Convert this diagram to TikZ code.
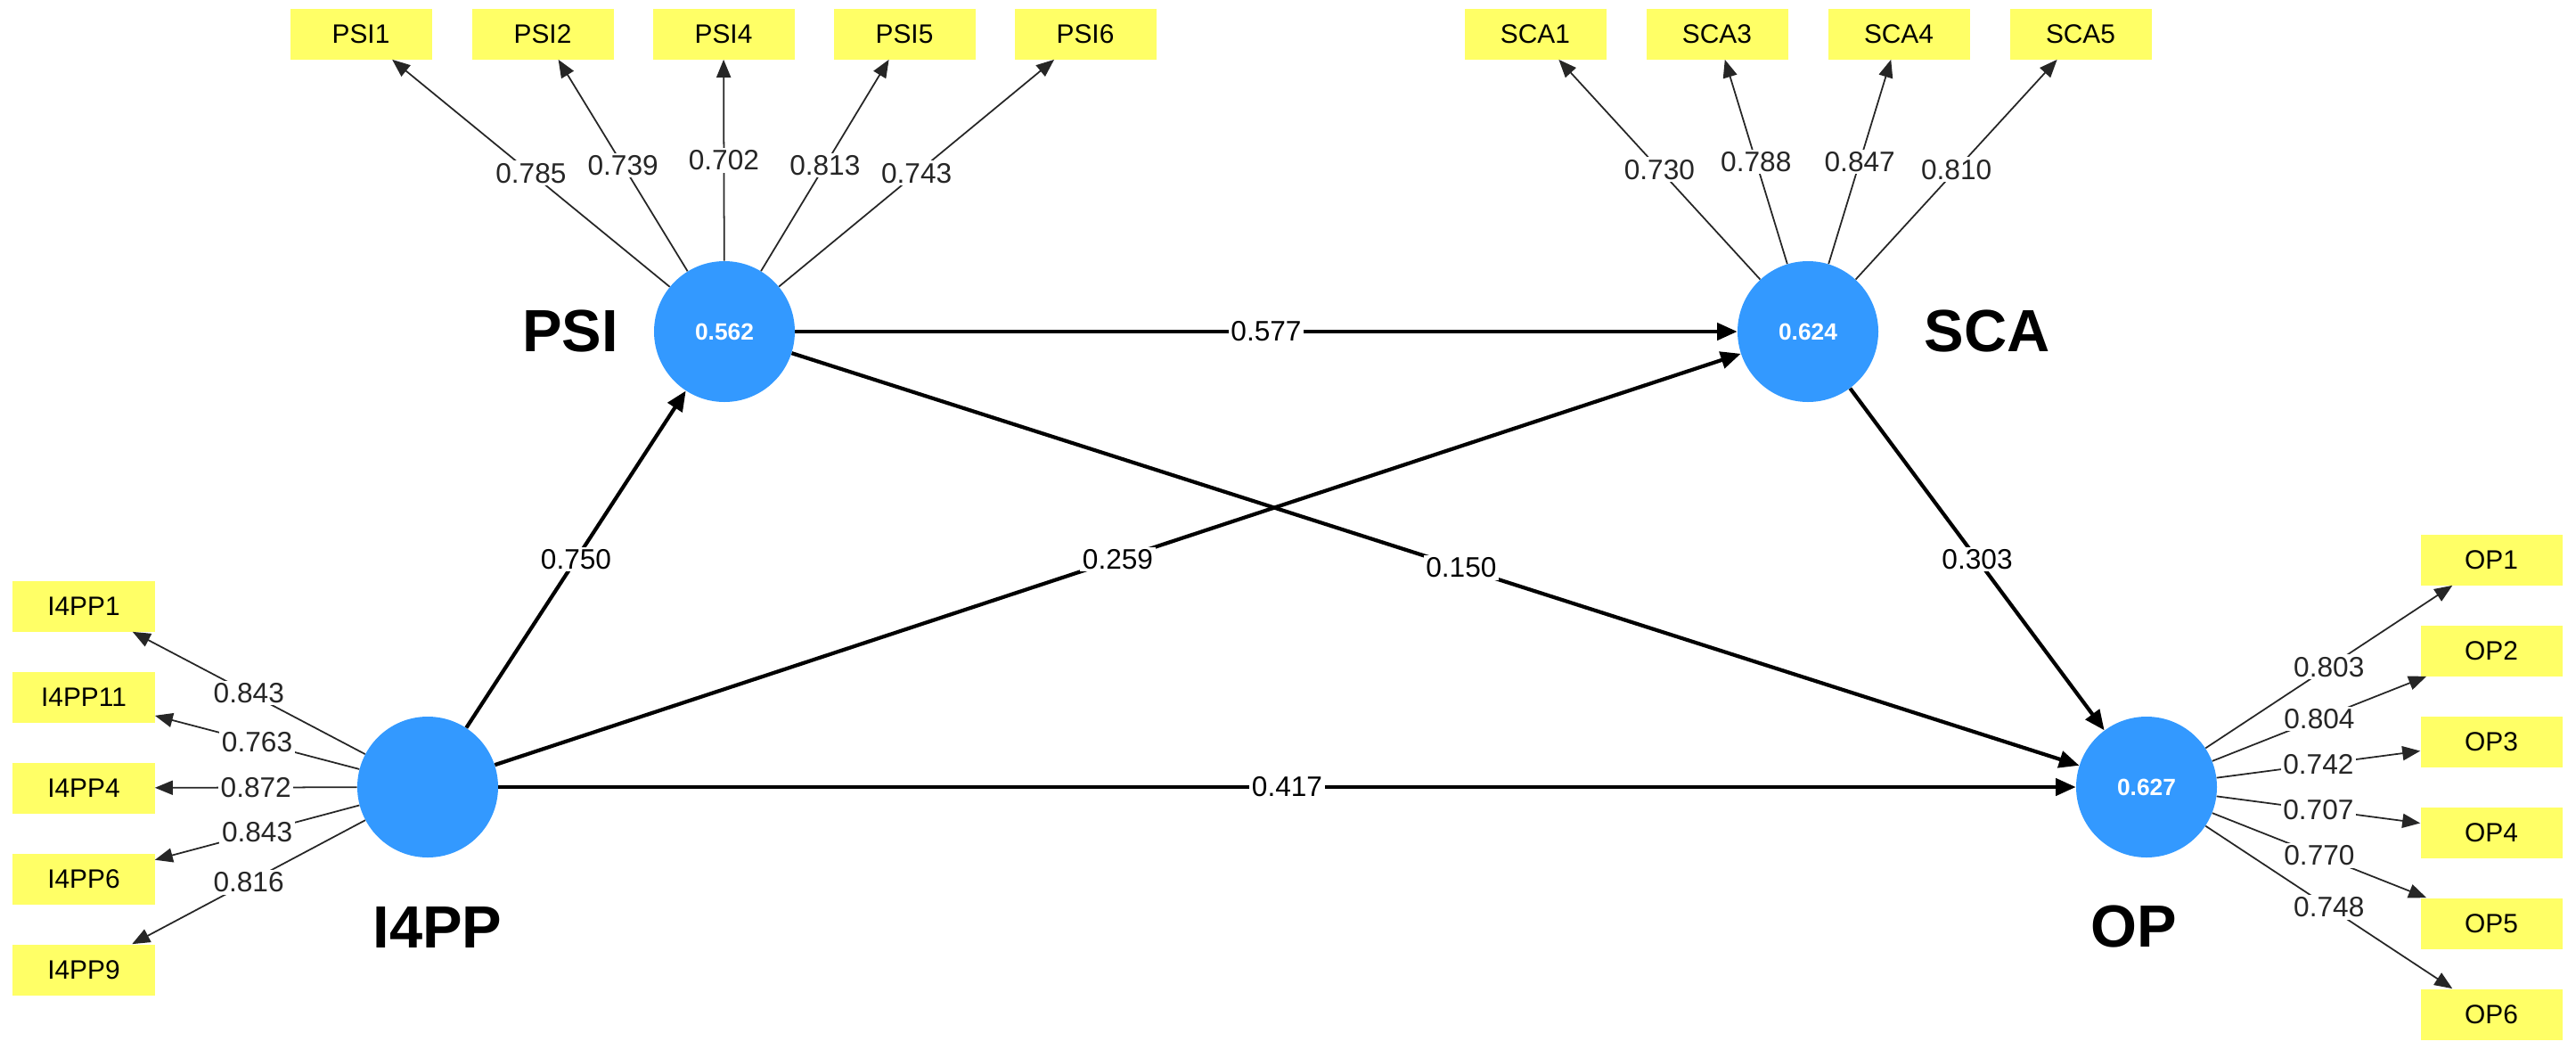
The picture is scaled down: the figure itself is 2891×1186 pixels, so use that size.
\documentclass[tikz,border=0pt]{standalone}
\usepackage{fontspec}
\setmainfont{Liberation Sans}
\usetikzlibrary{arrows.meta}
\definecolor{lvblue}{HTML}{3399FF}
\definecolor{mvyel}{HTML}{FFFF66}
\begin{document}
\begin{tikzpicture}[x=0.2mm,y=-0.2mm,
  lv/.style={circle,fill=lvblue,minimum size=31.6mm,inner sep=0pt,text=white,font=\fontsize{15}{15}\selectfont\bfseries},
  mv/.style={rectangle,fill=mvyel,minimum width=31.8mm,minimum height=11.4mm,inner sep=0pt,font=\fontsize{17}{17}\selectfont},
  lvname/.style={font=\fontsize{38}{38}\selectfont\bfseries},
  load/.style={-{Triangle[length=4mm,width=3.2mm]},line width=1pt,black!85},
  spath/.style={-{Triangle[length=4.5mm,width=3.8mm]},line width=2.4pt},
  val/.style={fill=white,inner sep=1.5pt,font=\fontsize{18}{18}\selectfont}]
\useasboundingbox (0,0) rectangle (2891,1186);
% latent variables
\node[lv] (PSI) at (813,372) {0.562};
\node[lv] (SCA) at (2029,372) {0.624};
\node[lv] (I4PP) at (480,883) {};
\node[lv] (OP) at (2409,883) {0.627};
\node[lvname] (nPSI) at (640,372) {PSI};
\node[lvname] (nSCA) at (2230,372) {SCA};
\node[lvname] (nI4PP) at (491,1041) {I4PP};
\node[lvname] (nOP) at (2395,1039) {OP};
% indicators
\node[mv] (PSI1) at (405,38) {PSI1};
\node[mv] (PSI2) at (609,38) {PSI2};
\node[mv] (PSI4) at (812,38) {PSI4};
\node[mv] (PSI5) at (1015,38) {PSI5};
\node[mv] (PSI6) at (1218,38) {PSI6};
\node[mv] (SCA1) at (1723,38) {SCA1};
\node[mv] (SCA3) at (1927,38) {SCA3};
\node[mv] (SCA4) at (2131,38) {SCA4};
\node[mv] (SCA5) at (2335,38) {SCA5};
\node[mv] (I1) at (94,680) {I4PP1};
\node[mv] (I11) at (94,782) {I4PP11};
\node[mv] (I4) at (94,884) {I4PP4};
\node[mv] (I6) at (94,986) {I4PP6};
\node[mv] (I9) at (94,1088) {I4PP9};
\node[mv] (OP1) at (2796,628) {OP1};
\node[mv] (OP2) at (2796,730) {OP2};
\node[mv] (OP3) at (2796,832) {OP3};
\node[mv] (OP4) at (2796,934) {OP4};
\node[mv] (OP5) at (2796,1036) {OP5};
\node[mv] (OP6) at (2796,1138) {OP6};
% loadings
\foreach \t/\v in {PSI1/0.785,PSI2/0.739,PSI4/0.702,PSI5/0.813,PSI6/0.743}
  \draw[load] (PSI) -- node[val]{\v} (\t);
\foreach \t/\v in {SCA1/0.730,SCA3/0.788,SCA4/0.847,SCA5/0.810}
  \draw[load] (SCA) -- node[val]{\v} (\t);
\foreach \t/\v in {I1/0.843,I11/0.763,I4/0.872,I6/0.843,I9/0.816}
  \draw[load] (I4PP) -- node[val]{\v} (\t);
\foreach \t/\v in {OP1/0.803,OP2/0.804,OP3/0.742,OP4/0.707,OP5/0.770,OP6/0.748}
  \draw[load] (OP) -- node[val]{\v} (\t);
% structural paths
\draw[spath] (I4PP) -- node[val]{0.750} (PSI);
\draw[spath] (I4PP) -- node[val]{0.259} (SCA);
\draw[spath] (PSI) -- node[val,pos=0.52]{0.150} (OP);
\draw[spath] (PSI) -- node[val]{0.577} (SCA);
\draw[spath] (SCA) -- node[val]{0.303} (OP);
\draw[spath] (I4PP) -- node[val]{0.417} (OP);
\end{tikzpicture}
\end{document}
